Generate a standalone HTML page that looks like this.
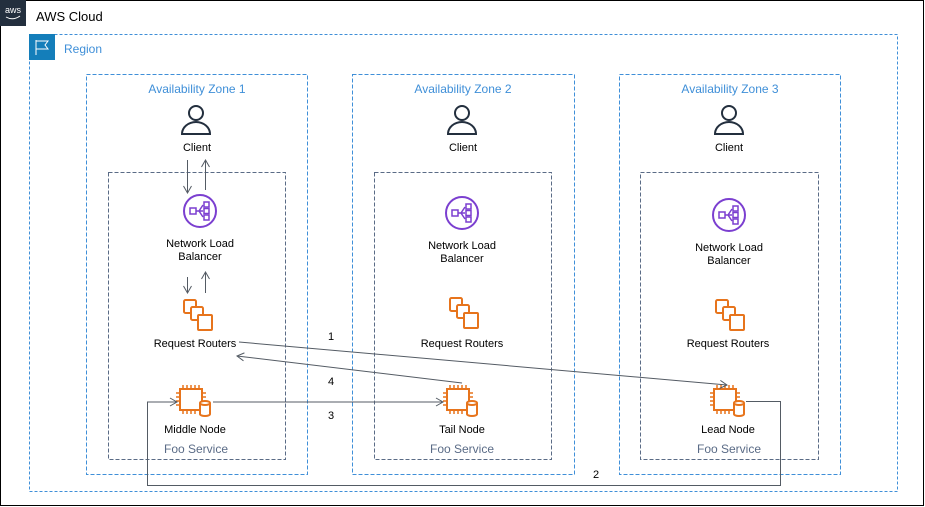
<!DOCTYPE html>
<html><head><meta charset="utf-8"><style>
html,body{margin:0;padding:0;background:#fff}
svg{display:block}
text{font-family:"Liberation Sans",Arial,sans-serif}
</style></head><body>
<svg width="925" height="507" viewBox="0 0 925 507" xmlns="http://www.w3.org/2000/svg">
<defs>
<marker id="ah" markerWidth="10" markerHeight="10" refX="8" refY="5" orient="auto" markerUnits="userSpaceOnUse">
<path d="M1,1 L8,5 L1,9" fill="none" stroke="#545b64" stroke-width="1"/>
</marker>
<g id="client" fill="none" stroke="#232f3e" stroke-width="2">
<circle cx="0" cy="-9" r="7"/>
<path d="M-14,12 A14,12 0 0 1 14,12 Z"/>
</g>
<g id="nlb" fill="none" stroke="#7b3fd0" stroke-width="2">
<circle cx="0" cy="0" r="16"/>
<rect x="-10" y="-3" width="6" height="6" stroke-width="1.5"/>
<path d="M-4,0 H3 M-1,0 L3,-6 M-1,0 L3,6" stroke-width="1.5"/>
<rect x="4" y="-9" width="5" height="5" stroke-width="1.5"/>
<rect x="4" y="-2.5" width="5" height="5" stroke-width="1.5"/>
<rect x="4" y="4" width="5" height="5" stroke-width="1.5"/>
</g>
<g id="rr" fill="#fff" stroke="#e7741c" stroke-width="2">
<rect x="-12" y="-9" width="12" height="13" rx="1.5"/>
<rect x="-5" y="-2" width="12" height="13" rx="1.5"/>
<rect x="2" y="6" width="14" height="15" rx="1"/>
</g>
<g id="node" fill="#fff" stroke="#e7741c" stroke-width="2">
<rect x="-15" y="-12" width="22" height="21"/>
<path d="M-12,-12 v-4 M-8,-12 v-4 M-4,-12 v-4 M0,-12 v-4 M4,-12 v-4 M-12,9 v4 M-8,9 v4 M-4,9 v4 M0,9 v4 M-19,-8 h4 M-19,-4 h4 M-19,0 h4 M-19,4 h4 M7,-8 h4 M7,-4 h4" stroke-width="1.5"/>
<path d="M5,2 V13 A5,2 0 0 0 15,13 V2 A5,2 0 0 0 5,2 A5,2 0 0 0 15,2"/>
</g>
</defs>
<rect x="0.5" y="0.5" width="923" height="505" fill="#fff" stroke="#000" stroke-width="1"/>
<rect x="0" y="0" width="26" height="26" fill="#232f3e"/>
<text x="13" y="13" font-size="9" fill="#fff" text-anchor="middle">aws</text>
<path d="M6,17 Q13,21 20,16" fill="none" stroke="#fff" stroke-width="1"/>
<text x="36" y="21" font-size="13" fill="#000">AWS Cloud</text>

<rect x="29.5" y="34.5" width="868" height="457" fill="none" stroke="#3f8fd8" stroke-width="1" stroke-dasharray="3,2"/>
<rect x="29" y="34" width="26" height="26" fill="#147eba"/>
<path d="M36,40 V55 M36,41 H48 L45,45 L48,49 H36" fill="none" stroke="#fff" stroke-width="1"/>
<text x="64" y="53" font-size="12" fill="#3f8fd8">Region</text>

<g fill="none" stroke="#3f8fd8" stroke-width="1" stroke-dasharray="4,2">
<rect x="86.5" y="74.5" width="221" height="400"/>
<rect x="352.5" y="74.5" width="222" height="400"/>
<rect x="619.5" y="74.5" width="221" height="400"/>
</g>
<g fill="none" stroke="#5a6b86" stroke-width="1" stroke-dasharray="4,2">
<rect x="108.5" y="172.5" width="177" height="287"/>
<rect x="374.5" y="172.5" width="177" height="287"/>
<rect x="640.5" y="172.5" width="178" height="287"/>
</g>
<g font-size="12" fill="#3f8fd8" text-anchor="middle">
<text x="197" y="93">Availability Zone 1</text>
<text x="463" y="93">Availability Zone 2</text>
<text x="730" y="93">Availability Zone 3</text>
</g>

<use href="#client" x="196" y="122"/>
<use href="#client" x="462" y="122"/>
<use href="#client" x="729" y="122"/>
<use href="#nlb" x="200" y="211"/>
<use href="#nlb" x="462" y="213"/>
<use href="#nlb" x="729" y="215"/>
<use href="#rr" x="196" y="309"/>
<use href="#rr" x="462" y="307"/>
<use href="#rr" x="728" y="309"/>
<use href="#node" x="195" y="401"/>
<use href="#node" x="462" y="401"/>
<use href="#node" x="729" y="401"/>

<g font-size="11" fill="#000" text-anchor="middle">
<text x="197" y="151">Client</text>
<text x="463" y="151">Client</text>
<text x="729" y="151">Client</text>
<text x="200" y="247">Network Load</text>
<text x="200" y="260">Balancer</text>
<text x="462" y="249">Network Load</text>
<text x="462" y="262">Balancer</text>
<text x="729" y="251">Network Load</text>
<text x="729" y="264">Balancer</text>
<text x="195" y="347">Request Routers</text>
<text x="462" y="347">Request Routers</text>
<text x="728" y="347">Request Routers</text>
<text x="195" y="433">Middle Node</text>
<text x="462" y="433">Tail Node</text>
<text x="728" y="433">Lead Node</text>
<text x="331" y="340">1</text>
<text x="331" y="385">4</text>
<text x="331" y="419">3</text>
<text x="596" y="478">2</text>
</g>
<g font-size="12" fill="#5a6b86" text-anchor="middle">
<text x="196" y="453">Foo Service</text>
<text x="462" y="453">Foo Service</text>
<text x="729" y="453">Foo Service</text>
</g>

<g fill="none" stroke="#545b64" stroke-width="1">
<path d="M187.5,160 V193" marker-end="url(#ah)"/>
<path d="M205.5,190 V160" marker-end="url(#ah)"/>
<path d="M187.5,277 V293" marker-end="url(#ah)"/>
<path d="M205.5,293 V272" marker-end="url(#ah)"/>
<path d="M239,342 L727,385" marker-end="url(#ah)"/>
<path d="M462,383 L237,356" marker-end="url(#ah)"/>
<path d="M213,402 H443" marker-end="url(#ah)"/>
<path d="M746,401.5 H780.5 V485.5 H147.5 V402 H177" marker-end="url(#ah)"/>
</g>
</svg>
</body></html>
